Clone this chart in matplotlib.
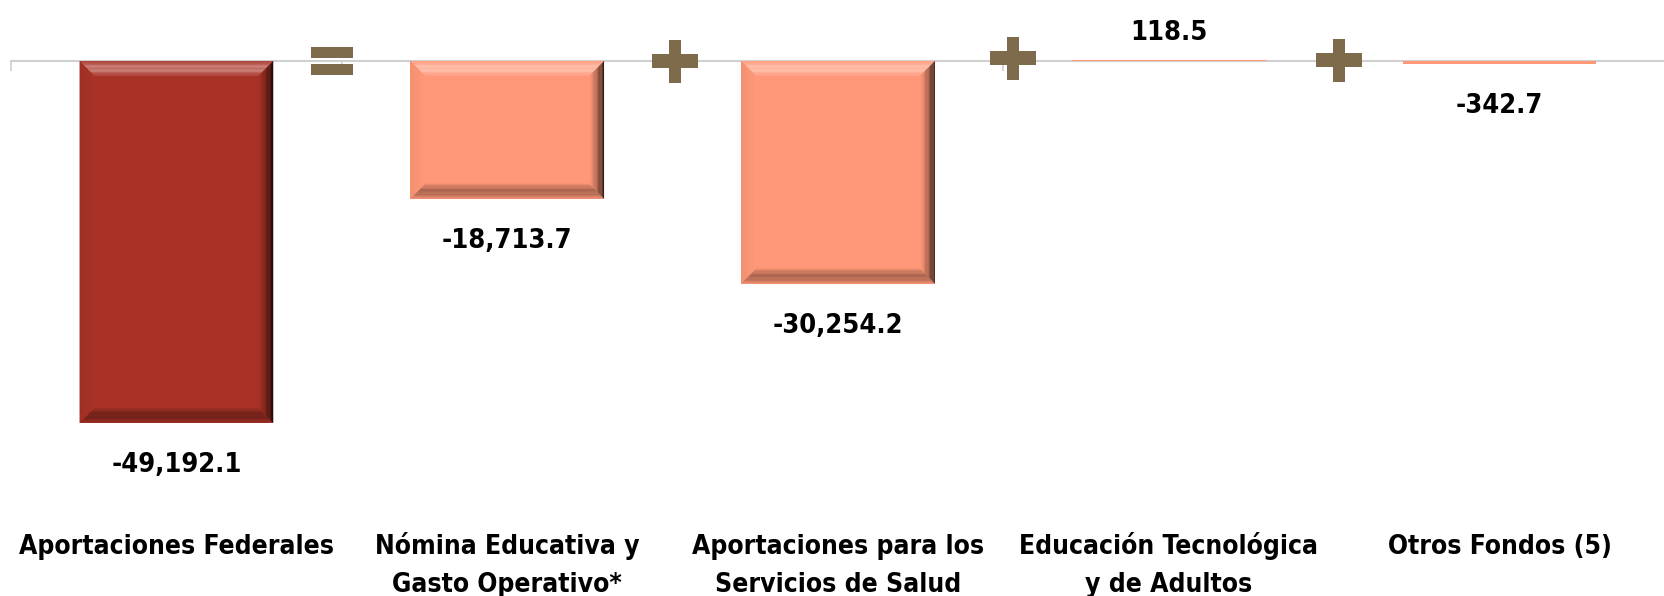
import matplotlib
matplotlib.use("Agg")
import matplotlib.pyplot as plt
import matplotlib.patches as mpatches
import matplotlib.transforms as mtransforms
import numpy as np

# datos
categorias = ["Aportaciones Federales", "Nómina Educativa y\nGasto Operativo*",
              "Aportaciones para los\nServicios de Salud", "Educación Tecnológica\ny de Adultos",
              "Otros Fondos (5)"]
valores = [-49192.1, -18713.7, -30254.2, 118.5, -342.7]
etiquetas = ["-49,192.1", "-18,713.7", "-30,254.2", "118.5", "-342.7"]
operadores = ["=", "+", "+", "+"]

plt.rcParams['font.family'] = ['DejaVu Sans']

W, H, DPI = 1665, 596, 100
fig = plt.figure(figsize=(W / DPI, H / DPI), dpi=DPI)

y0_px = 61          # posicion del eje (px desde arriba)
escala = 362 / 49192.1   # px por unidad
left_px = 11
paso_px = 333

ax = fig.add_axes([left_px / W, 0, 1 - left_px / W, 1])
ax.set_xlim(-0.5, -0.5 + (W - left_px) / paso_px)
ax.set_ylim(-(H - y0_px) / escala, y0_px / escala)

color_fuerte = "#A83226"
color_claro = "#FF9878"
colores = [color_fuerte] + [color_claro] * 4
ancho = 195 / paso_px

barras = ax.bar(range(len(valores)), valores, width=ancho, color=colores, zorder=2)


def mezcla(c, otro, t):
    a = np.array(matplotlib.colors.to_rgb(c))
    b = np.array(matplotlib.colors.to_rgb(otro))
    return tuple(a * (1 - t) + b * t)


# efecto biselado
px_x = 1 / paso_px
px_y = 1 / escala
n = 12
for b, c in zip(barras, colores):
    x0, w = b.get_x(), b.get_width()
    y_lo, y_hi = sorted([b.get_y(), b.get_y() + b.get_height()])
    h_px = (y_hi - y_lo) / px_y
    if h_px < 10:
        continue
    bx, by = 15 * px_x, 15 * px_y
    x1 = x0 + w
    for i in range(n):
        t0 = i / n
        t1 = (i + 1) / n
        tm = (t0 + t1) / 2
        # arriba: franja brillante
        ya, yb = y_hi - by * t0, y_hi - by * t1
        ax.add_patch(mpatches.Polygon([(x0 + bx * t0, ya), (x1 - bx * t0, ya), (x1 - bx * t1, yb), (x0 + bx * t1, yb)],
                                      color=mezcla(c, "white", 0.35 * np.sin(np.pi * tm) + 0.05), lw=0, zorder=3))
        # abajo: franja oscura
        ya, yb = y_lo + by * t0, y_lo + by * t1
        ax.add_patch(mpatches.Polygon([(x0 + bx * t0, ya), (x1 - bx * t0, ya), (x1 - bx * t1, yb), (x0 + bx * t1, yb)],
                                      color=mezcla(c, "black", 0.3 * np.sin(np.pi * tm) + 0.05), lw=0, zorder=3))
        # izquierda
        xa, xb = x0 + bx * t0, x0 + bx * t1
        ax.add_patch(mpatches.Polygon([(xa, y_hi - by * t0), (xb, y_hi - by * t1), (xb, y_lo + by * t1), (xa, y_lo + by * t0)],
                                      color=mezcla(c, "black", 0.06 * (1 - tm)), lw=0, zorder=3))
        # derecha: degradado hacia negro
        xa, xb = x1 - bx * t0, x1 - bx * t1
        ax.add_patch(mpatches.Polygon([(xa, y_hi - by * t0), (xb, y_hi - by * t1), (xb, y_lo + by * t1), (xa, y_lo + by * t0)],
                                      color=mezcla(c, "black", 0.85 * (1 - tm) ** 1.3), lw=0, zorder=3))

# etiquetas de valores
for i, (v, t) in enumerate(zip(valores, etiquetas)):
    off = 20 if v > 0 else -49
    ax.annotate(t, (i, v), xytext=(0, off), textcoords="offset pixels",
                ha="center", va="baseline", fontsize=19.5, fontweight="bold", fontstretch="condensed",
                color="black")

# operadores (= y +)
color_op = "#7D6B4B"
desplaz_x = [-10, 2, 10, 5]
desplaz_y = [0, 0, 3, 1]
for k, op in enumerate(operadores):
    xc = k + 0.5 + desplaz_x[k] / paso_px
    tr = mtransforms.ScaledTranslation(xc, 0, ax.transData)
    dy = desplaz_y[k]
    if op == "=":
        rects = [(-21, 3, 42, 11), (-21, -14, 42, 11)]
    else:
        rects = [(-23, -7 + dy, 46, 14), (-6, -22 + dy, 12, 43)]
    for (rx, ry, rw, rh) in rects:
        ax.add_patch(mpatches.Rectangle((rx, ry), rw, rh, transform=mtransforms.IdentityTransform() + tr,
                                        color=color_op, lw=0, zorder=4, clip_on=False))

# eje
for s in ["top", "right", "left"]:
    ax.spines[s].set_visible(False)
ax.spines["bottom"].set_position(("data", 0))
ax.spines["bottom"].set_color("#D0D0D0")
ax.spines["bottom"].set_linewidth(1.5)
ax.spines["bottom"].set_zorder(1)
ax.set_yticks([])
ax.set_xticks(np.arange(-0.5, len(valores), 1))
ax.set_xticklabels([])
ax.tick_params(axis="x", length=7.5, color="#D0D0D0", width=1.2)

# categorias (linea base de la primera fila a 554 px)
for i, cat in enumerate(categorias):
    ax.text(i, 1 - 554 / H, cat, transform=ax.get_xaxis_transform(), ha="center", va="top",
            fontsize=19, fontweight="bold", fontstretch="condensed", linespacing=1.6)

fig.canvas.draw()
# ajustar: alinear la linea base de la primera fila
for t in ax.texts[-len(categorias):]:
    t.set_verticalalignment("baseline")
    nlin = t.get_text().count("\n")
    t.set_y(1 - (554 + 38 * nlin) / H)

fig.savefig("out.png", dpi=DPI)
